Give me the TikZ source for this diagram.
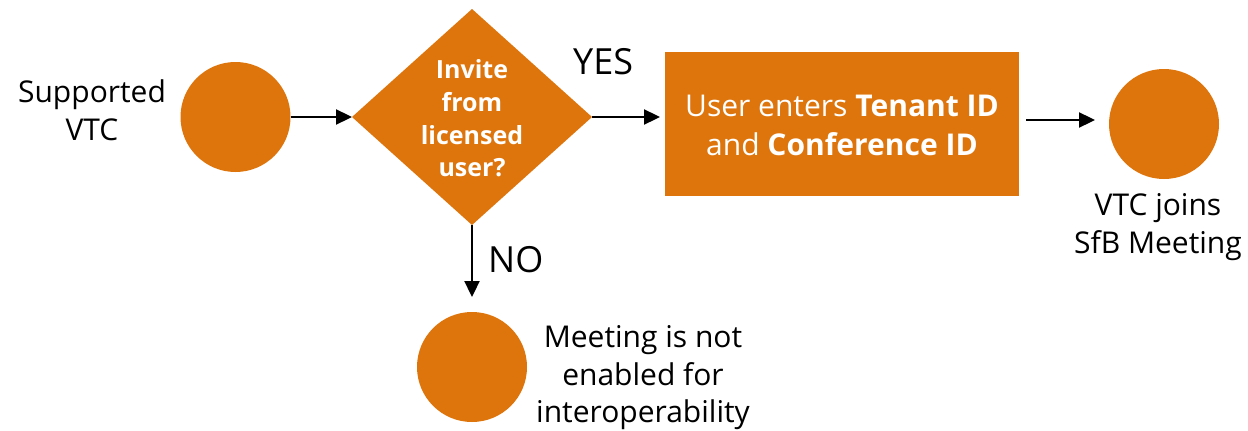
\documentclass[tikz,border=0pt]{standalone}
\usepackage{fontspec}
\setmainfont{Open Sans}
\usetikzlibrary{arrows.meta,shapes.geometric}
\definecolor{vorange}{RGB}{222,117,12}
\begin{document}
\begin{tikzpicture}[x=1pt,y=-1pt,
  blob/.style={circle,fill=vorange,minimum size=110pt,inner sep=0pt,outer sep=0pt},
  conn/.style={line width=2.3pt,-{Triangle[length=16pt,width=15pt]}},
  lbl/.style={font=\fontsize{30}{37.5}\selectfont,align=center,text=black,inner sep=0pt},
  big/.style={font=\fontsize{36}{44}\selectfont,inner sep=0pt},
  intext/.style={text=white,align=center,inner sep=0pt}]
\useasboundingbox (0,0) rectangle (1248,431);
% shapes
\node[blob] (c1) at (235.5,117) {};
\node[diamond,fill=vorange,minimum width=240pt,minimum height=216pt,inner sep=0pt,outer sep=0pt] (d) at (472,117) {};
\node[rectangle,fill=vorange,minimum width=354pt,minimum height=144pt,inner sep=0pt,outer sep=0pt] (r) at (842,124) {};
\node[blob] (c3) at (1164,124) {};
\node[blob] (c4) at (472,367) {};
% texts
\node[intext,font=\fontsize{25}{32.7}\selectfont\bfseries] (dt) at (472,118.5) {Invite\\from\\licensed\\user?};
\node[intext,font=\fontsize{30}{39}\selectfont] (rt) at (842,125) {User enters \textbf{Tenant ID}\\and \textbf{Conference ID}};
\node[lbl] (t1) at (92,110) {Supported\\VTC};
\node[lbl] (t3) at (1158,227) {VTC joins\\SfB Meeting};
\node[lbl] (t4) at (643,378) {Meeting is not\\enabled for\\interoperability};
\node[big,anchor=base west] (yes) at (573,74) {YES};
\node[big,anchor=base west] (no) at (488,272) {NO};
% connectors
\draw[conn] (c1.east) -- (d.west);
\draw[conn,shorten >=5pt] (d.east) -- (d.east -| r.west);
\draw[conn,shorten <=7pt,shorten >=14pt] ([yshift=4pt]r.east) -- ([yshift=4pt]c3.west);
\draw[conn,shorten >=15pt] (d.south) -- (c4.north);
\end{tikzpicture}
\end{document}
